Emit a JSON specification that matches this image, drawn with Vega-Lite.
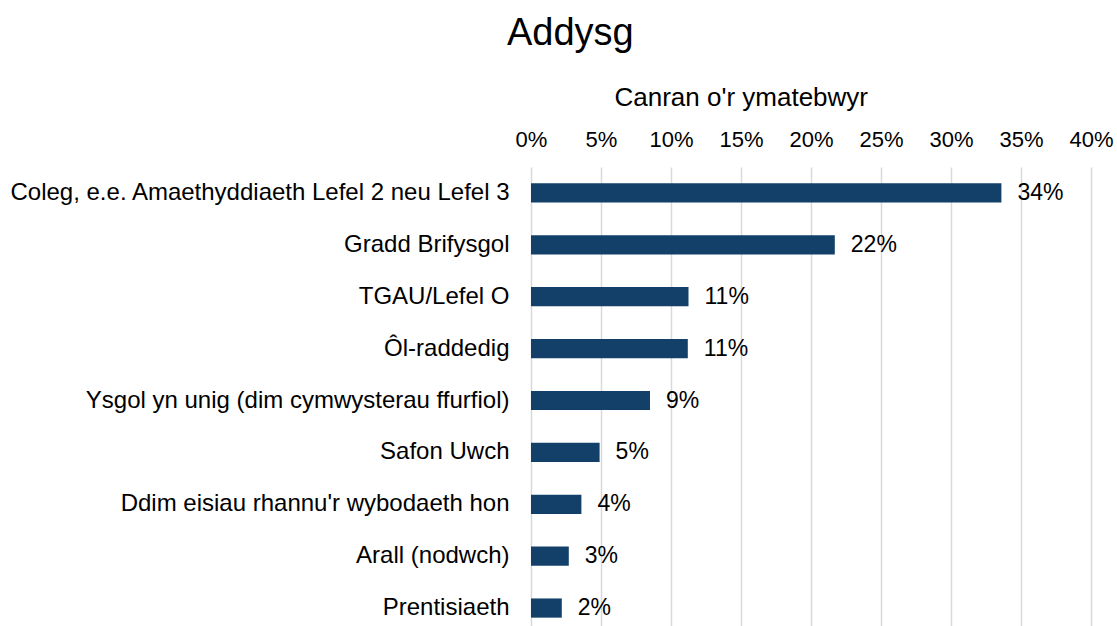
{
  "$schema": "https://vega.github.io/schema/vega-lite/v6.json",
  "width": 560,
  "height": 467,
  "autosize": {"type": "none"},
  "padding": {"left": 531, "top": 167, "right": 26, "bottom": 0},
  "background": "white",
  "title": {
    "text": "Addysg",
    "font": "Liberation Sans",
    "fontSize": 38,
    "fontWeight": "normal",
    "color": "#000000",
    "anchor": "start",
    "frame": "group",
    "dx": -24,
    "offset": 31
  },
  "config": {
    "view": {"stroke": null},
    "font": "Liberation Sans"
  },
  "data": {
    "values": [
      {"cat": "Coleg, e.e. Amaethyddiaeth Lefel 2 neu Lefel 3", "v": 0.336, "lbl": "34%"},
      {"cat": "Gradd Brifysgol", "v": 0.217, "lbl": "22%"},
      {"cat": "TGAU/Lefel O", "v": 0.1125, "lbl": "11%"},
      {"cat": "Ôl-raddedig", "v": 0.112, "lbl": "11%"},
      {"cat": "Ysgol yn unig (dim cymwysterau ffurfiol)", "v": 0.085, "lbl": "9%"},
      {"cat": "Safon Uwch", "v": 0.049, "lbl": "5%"},
      {"cat": "Ddim eisiau rhannu'r wybodaeth hon", "v": 0.036, "lbl": "4%"},
      {"cat": "Arall (nodwch)", "v": 0.027, "lbl": "3%"},
      {"cat": "Prentisiaeth", "v": 0.022, "lbl": "2%"}
    ]
  },
  "encoding": {
    "y": {
      "field": "cat",
      "type": "nominal",
      "sort": null,
      "scale": {"paddingInner": 0.63, "paddingOuter": 0.315},
      "axis": {
        "title": null,
        "ticks": false,
        "domain": false,
        "labelFontSize": 24,
        "labelColor": "#000000",
        "labelPadding": 22,
        "labelLimit": 700,
        "labelFont": "Liberation Sans"
      }
    },
    "x": {
      "field": "v",
      "type": "quantitative",
      "scale": {"domain": [0, 0.4], "nice": false},
      "axis": {
        "orient": "top",
        "format": ".0%",
        "values": [0, 0.05, 0.1, 0.15, 0.2, 0.25, 0.3, 0.35, 0.4],
        "title": "Canran o'r ymatebwyr",
        "titleFontSize": 26,
        "titleFontWeight": "normal",
        "titleColor": "#000000",
        "titleFont": "Liberation Sans",
        "titleAnchor": "start",
        "titleAlign": "left",
        "titleBaseline": "alphabetic",
        "titleX": 83,
        "titleY": -62,
        "labelFontSize": 22,
        "labelColor": "#000000",
        "labelFont": "Liberation Sans",
        "labelPadding": 16,
        "labelFlush": false,
        "labelOverlap": false,
        "ticks": false,
        "domain": false,
        "grid": true,
        "gridColor": "#d9d9d9",
        "gridWidth": 1.5
      }
    }
  },
  "layer": [
    {"mark": {"type": "bar", "color": "#124069"}},
    {
      "mark": {"type": "text", "align": "left", "baseline": "middle", "dx": 16, "fontSize": 23, "color": "#000000", "font": "Liberation Sans"},
      "encoding": {"text": {"field": "lbl"}}
    }
  ]
}
